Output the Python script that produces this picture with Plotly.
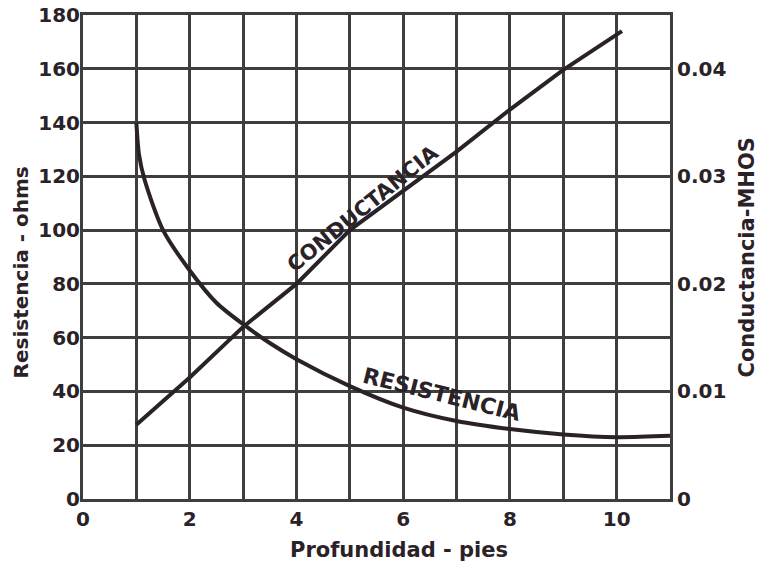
import plotly.graph_objects as go

# data
profundidad_r = [1.0, 1.05, 1.15, 1.5, 2.0, 2.5, 3.0, 3.5, 4.0, 5.0, 6.0, 7.0, 8.0, 9.0, 10.0, 11.0]
resistencia = [140, 128, 119, 100, 85, 73, 65, 58, 52, 42, 34, 29, 26, 24, 23, 23.5]

profundidad_c = [1.0, 2.0, 3.0, 4.0, 5.0, 6.0, 7.0, 8.0, 9.0, 10.1]
conductancia = [0.0069, 0.0113, 0.0160, 0.0200, 0.0250, 0.0287, 0.0323, 0.0362, 0.0399, 0.0435]

x_ticks = list(range(12))
x_labels = ["0", "", "2", "", "4", "", "6", "", "8", "", "10", ""]
y_ticks = [0, 20, 40, 60, 80, 100, 120, 140, 160, 180]
y2_ticks = [0, 0.01, 0.02, 0.03, 0.04]
y2_labels = ["0", "0.01", "0.02", "0.03", "0.04"]

INK = "#2b2228"
GRID = "#3e3e3e"
FONT = dict(family="DejaVu Sans", size=20, color=INK, weight="bold")

fig = go.Figure()

fig.add_trace(go.Scatter(
    x=profundidad_r, y=resistencia, mode="lines",
    line=dict(color=INK, width=4, shape="spline", smoothing=0.8),
    name="Resistencia", showlegend=False,
))
fig.add_trace(go.Scatter(
    x=profundidad_c, y=conductancia, mode="lines", yaxis="y2",
    line=dict(color=INK, width=4),
    name="Conductancia", showlegend=False,
))

fig.add_annotation(
    x=5.23, y=108, text="CONDUCTANCIA", showarrow=False, textangle=-39,
    font=dict(family="DejaVu Sans", size=21, color=INK),
)
fig.add_annotation(
    x=6.73, y=39, text="RESISTENCIA", showarrow=False, textangle=14,
    font=dict(family="DejaVu Sans", size=22, color=INK),
)

# axis titles as annotations so they sit where the original puts them
fig.add_annotation(
    xref="paper", yref="paper", x=0.538, y=-0.105, yanchor="middle",
    text="Profundidad - pies", showarrow=False,
    font=dict(family="DejaVu Sans", size=21, color=INK, weight="bold"),
)
fig.add_annotation(
    xref="paper", yref="paper", x=-0.104, y=0.468, xanchor="center", yanchor="middle",
    text="Resistencia - ohms", showarrow=False, textangle=-90,
    font=dict(family="DejaVu Sans", size=20, color=INK),
)
fig.add_annotation(
    xref="paper", yref="paper", x=1.132, y=0.5, xanchor="center", yanchor="middle",
    text="Conductancia-MHOS", showarrow=False, textangle=-90,
    font=dict(family="DejaVu Sans", size=21, color=INK, weight="bold"),
)

fig.update_layout(
    width=767, height=567,
    margin=dict(l=83, r=97, t=15, b=68),
    paper_bgcolor="white", plot_bgcolor="white",
    font=FONT,
    xaxis=dict(
        range=[0, 11], tickmode="array", tickvals=x_ticks, ticktext=x_labels,
        showgrid=True, gridcolor=GRID, gridwidth=3,
        showline=True, linecolor=GRID, linewidth=3, mirror=True,
        zeroline=False, ticks="", tickfont=FONT, automargin=False,
    ),
    yaxis=dict(
        range=[0, 180], tickmode="array", tickvals=y_ticks,
        showgrid=True, gridcolor=GRID, gridwidth=3,
        showline=True, linecolor=GRID, linewidth=3,
        zeroline=False, ticks="", tickfont=FONT, automargin=False,
        ticklabelstandoff=-4, ticklabeloverflow="allow",
    ),
    yaxis2=dict(
        range=[0, 0.045], overlaying="y", side="right",
        tickmode="array", tickvals=y2_ticks, ticktext=y2_labels,
        showgrid=False, showline=True, linecolor=GRID, linewidth=3,
        zeroline=False, ticks="", tickfont=FONT, automargin=False,
        ticklabeloverflow="allow",
    ),
)

# drop the default page margin so the figure sits at the window's corner
fig.write_html(
    "out.html",
    config={"displayModeBar": False},
    post_script="document.body.style.margin='0';",
)
